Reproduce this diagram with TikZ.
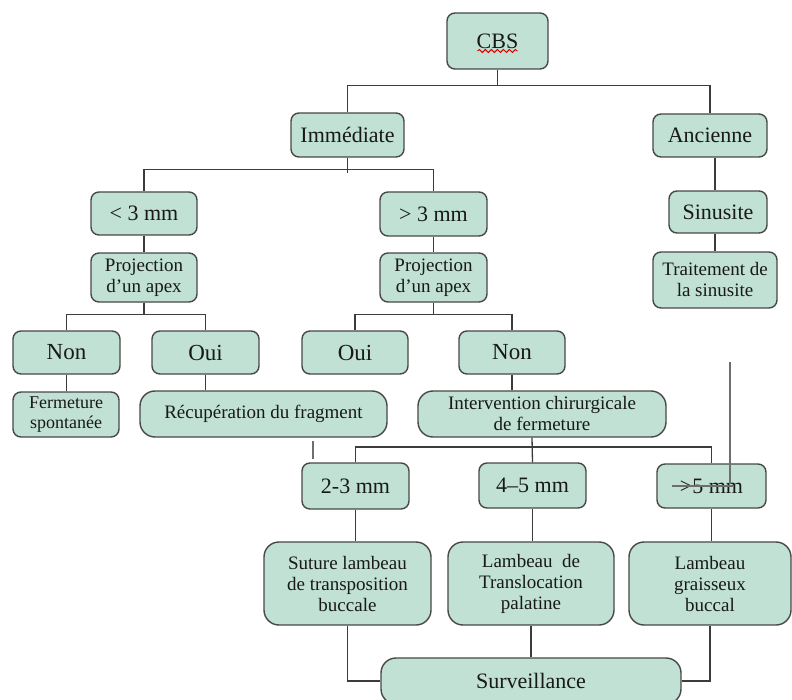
\documentclass[tikz,border=0pt]{standalone}
\usepackage{fontspec}
\setmainfont{Liberation Serif}
\usetikzlibrary{decorations.pathmorphing}
\definecolor{boxfill}{RGB}{192,225,211}
\definecolor{boxline}{RGB}{72,72,72}
\definecolor{wirecol}{RGB}{60,60,60}
\definecolor{straycol}{RGB}{110,110,110}
\definecolor{txt}{RGB}{25,25,25}
\tikzset{
  bx/.style={draw=boxline, fill=boxfill, line width=1.4pt, rounded corners=8pt,
    inner sep=0pt, align=center, text=txt, font=\fontsize{22}{24}\selectfont},
  bxs/.style={bx, font=\fontsize{19}{21}\selectfont},
  bigr/.style={rounded corners=15pt},
  wire/.style={draw=wirecol, line width=1.3pt},
  stray/.style={draw=straycol, line width=1.6pt},
}
\begin{document}
\begin{tikzpicture}[x=1pt, y=-1pt]
\path[use as bounding box, clip] (0,0) rectangle (792,700);
\fill[white] (0,0) rectangle (792,700);

% level 0-1
\node[bx, minimum width=101pt, minimum height=56pt] (cbs) at (497.5,41) {CBS};
\node[bx, minimum width=113pt, minimum height=44pt] (imm) at (347.5,135) {Immédiate};
\node[bx, minimum width=114pt, minimum height=43pt] (anc) at (710,135.5) {Ancienne};

% level 2
\node[bx, minimum width=106pt, minimum height=43pt] (lt3) at (144,213.5) {< 3 mm};
\node[bx, minimum width=107pt, minimum height=44pt] (gt3) at (433.5,214) {> 3 mm};
\node[bx, minimum width=98pt, minimum height=42pt] (sin) at (718,212) {Sinusite};

% level 3
\node[bxs, minimum width=106pt, minimum height=49pt] (projL) at (144,277.5) {Projection\\d'un apex};
\node[bxs, minimum width=107pt, minimum height=49pt] (projR) at (433.5,277.5) {Projection\\d'un apex};
\node[bxs, minimum width=124pt, minimum height=56pt] (trait) at (715,280) {Traitement de\\la sinusite};

% level 4
\node[bx, font=\fontsize{23}{25}\selectfont, minimum width=107pt, minimum height=43pt] (nonL) at (66.5,352.5) {Non};
\node[bx, font=\fontsize{23}{25}\selectfont, minimum width=107pt, minimum height=43pt] (ouiL) at (205.5,352.5) {Oui};
\node[bx, font=\fontsize{23}{25}\selectfont, minimum width=106pt, minimum height=43pt] (ouiR) at (355,352.5) {Oui};
\node[bx, font=\fontsize{23}{25}\selectfont, minimum width=106pt, minimum height=43pt] (nonR) at (512,352.5) {Non};

% level 5
\node[bxs, font=\fontsize{18}{20}\selectfont, minimum width=106pt, minimum height=45pt] (ferm) at (66,414.5) {Fermeture\\spontanée};
\node[bxs, bigr, minimum width=247pt, minimum height=46pt] (recup) at (263.5,414) {Récupération du fragment};
\node[bxs, bigr, minimum width=248pt, minimum height=46pt] (interv) at (542,414) {Intervention chirurgicale\\de fermeture};

% level 6
\node[bx, minimum width=107pt, minimum height=46pt] (m23) at (355.5,486) {2-3 mm};
\node[bx, minimum width=107pt, minimum height=45pt] (m45) at (532.5,485.5) {4–5 mm};
\node[bx, minimum width=109pt, minimum height=44pt] (m5p) at (711.5,486) {>5 mm};

% level 7
\node[bxs, bigr, minimum width=167pt, minimum height=83pt] (sut) at (347.5,583.5) {Suture lambeau\\de transposition\\buccale};
\node[bxs, bigr, minimum width=166pt, minimum height=83pt] (tra) at (531,583.5) {Lambeau\ \ de\\Translocation\\palatine};
\node[bxs, bigr, minimum width=162pt, minimum height=83pt] (gra) at (710,583.5) {Lambeau\\graisseux\\buccal};

% level 8
\node[bx, bigr, minimum width=300pt, minimum height=46pt] (surv) at (531,681) {Surveillance};

% spelling squiggle under CBS
\draw[red!85!black, line width=0.9pt, decorate, decoration={snake, amplitude=1.5pt, segment length=6pt}]
  ([xshift=-20pt, yshift=-10pt]cbs.center) -- ([xshift=20pt, yshift=-10pt]cbs.center);

% connectors
\draw[wire] (cbs.south) -- ++(0,16) coordinate (b0);
\draw[wire] (imm.north) |- (b0) -| (anc.north);

\draw[wire] (imm.south) -- ++(0,15);
\coordinate (b1) at ([yshift=-12pt]imm.south);
\draw[wire] (lt3.north) |- (b1) -| (gt3.north);

\draw[wire] (anc.south -| trait.north) -- (sin.north -| trait.north);
\draw[wire] (sin.south -| trait.north) -- (trait.north);

\draw[wire] (lt3.south) -- (projL.north);
\draw[wire] (gt3.south) -- (projR.north);

\draw[wire] (projL.south) -- ++(0,12) coordinate (b2);
\draw[wire] (nonL.north) |- (b2) -| (ouiL.north);
\draw[wire] (projR.south) -- ++(0,12) coordinate (b3);
\draw[wire] (ouiR.north) |- (b3) -| (nonR.north);

\draw[wire] (nonL.south) -- (nonL.south |- ferm.north);
\draw[wire] (ouiL.south) -- (ouiL.south |- recup.north);
\draw[wire] (nonR.south) -- (nonR.south |- interv.north);

\coordinate (b5) at (532,447);
\draw[wire] (interv.south -| b5) -- (m45.north);
\draw[wire] (m23.north) |- (b5) -| (m5p.north);

\draw[wire] (m23.south) -- (m23.south |- sut.north);
\draw[wire] (m45.south) -- (m45.south |- tra.north);
\draw[wire] (m5p.south) -- (m5p.south |- gra.north);

\draw[wire] (sut.south) |- (surv.west);
\draw[wire] (tra.south) -- (tra.south |- surv.north);
\draw[wire] (gra.south) |- (surv.east);

% stray marks
\coordinate (s1) at (313,441);
\coordinate (s2) at (313,459);
\draw[stray] (s1) -- (s2);
\coordinate (s3) at (730,362);
\coordinate (s4) at (730,484);
\draw[stray] (s3) -- (s4);
\coordinate (s5) at (672,486);
\coordinate (s6) at (733,486);
\draw[stray] (s5) -- (s6);
\end{tikzpicture}
\end{document}
